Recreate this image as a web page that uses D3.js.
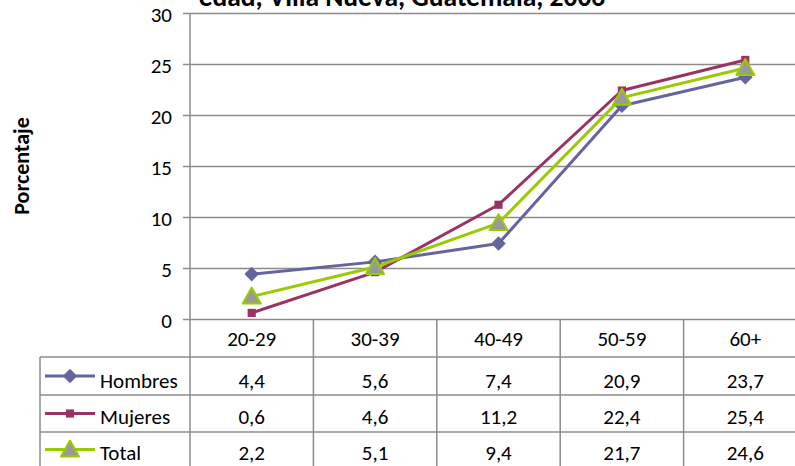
<!DOCTYPE html>
<html>
<head>
<meta charset="utf-8">
<script src="https://cdn.jsdelivr.net/npm/d3@7"></script>
<style>
  html, body { margin: 0; padding: 0; background: #fff; }
  svg { display: block; font-family: "Carlito", "Lato", "Open Sans", sans-serif; }
</style>
</head>
<body>
<svg id="chart" width="795" height="466"></svg>
<script>
// Age groups and percentages by sex
const categories = ["20-29", "30-39", "40-49", "50-59", "60+"];
const hombres = [4.4, 5.6, 7.4, 20.9, 23.7];
const mujeres = [0.6, 4.6, 11.2, 22.4, 25.4];
const total = [2.2, 5.1, 9.4, 21.7, 24.6];
const yTicks = [0, 5, 10, 15, 20, 25, 30];
const seriesNames = ["Hombres", "Mujeres", "Total"];

const series = [
  { name: seriesNames[0], values: hombres, color: "#64649f", marker: "diamond", fill: "#64649f" },
  { name: seriesNames[1], values: mujeres, color: "#993366", marker: "square", fill: "#993366" },
  { name: seriesNames[2], values: total, color: "#99cc00", marker: "triangle", fill: "#999999" }
];

const svg = d3.select("#chart");
const gridColor = "#8c8c8c";
const fontSize = 21;

const plot = { left: 190, right: 807, top: 13, bottom: 319 };
const tableRows = [357, 395, 432, 470];
const rowBaselines = [388, 424, 460];
const tableLeft = 40;

const x = d3.scaleBand().domain(categories).range([plot.left, plot.right]);
const y = d3.scaleLinear().domain([0, 30]).range([plot.bottom, plot.top]);

// Title (second line of the heading, clipped by the top edge)
svg.append("text")
  .attr("x", 402).attr("y", 6)
  .attr("text-anchor", "middle")
  .attr("font-size", 27.5).attr("font-weight", "bold")
  .text("edad, Villa Nueva, Guatemala, 2006");

// Y axis title
svg.append("text")
  .attr("transform", "translate(29,166) rotate(-90)")
  .attr("text-anchor", "middle")
  .attr("font-size", 22).attr("font-weight", "bold")
  .text("Porcentaje");

// Horizontal gridlines
svg.append("g")
  .attr("transform", `translate(${plot.left},0)`)
  .call(d3.axisRight(y).tickValues(yTicks).tickSize(plot.right - plot.left).tickFormat(""))
  .call(g => g.select(".domain").remove())
  .call(g => g.selectAll("line").attr("stroke", gridColor).attr("stroke-width", 1.5));

// Y axis with tick labels
svg.append("g")
  .attr("transform", `translate(${plot.left},0)`)
  .call(d3.axisLeft(y).tickValues(yTicks).tickSize(7).tickSizeOuter(0).tickPadding(11))
  .call(g => g.select(".domain").remove())
  .call(g => g.selectAll("line").attr("stroke", gridColor).attr("stroke-width", 1.5))
  .call(g => g.selectAll("text").attr("font-size", fontSize).attr("fill", "#000")
    .attr("font-family", "Carlito, Lato, sans-serif").attr("dy", "0.42em"));

// Vertical axis line down through the table
svg.append("line")
  .attr("x1", plot.left).attr("x2", plot.left)
  .attr("y1", plot.top).attr("y2", 470)
  .attr("stroke", gridColor).attr("stroke-width", 1.5);

// Category dividers below the plot
categories.forEach(c => {
  const xr = x(c) + x.bandwidth();
  svg.append("line")
    .attr("x1", xr).attr("x2", xr)
    .attr("y1", plot.bottom).attr("y2", 470)
    .attr("stroke", gridColor).attr("stroke-width", 1.5);
});

// Table horizontal rules and left border
tableRows.slice(0, 3).forEach(ry => {
  svg.append("line")
    .attr("x1", tableLeft).attr("x2", plot.right)
    .attr("y1", ry).attr("y2", ry)
    .attr("stroke", gridColor).attr("stroke-width", 1.5);
});
svg.append("line")
  .attr("x1", tableLeft).attr("x2", tableLeft)
  .attr("y1", tableRows[0]).attr("y2", 470)
  .attr("stroke", gridColor).attr("stroke-width", 1.5);

// Category labels
svg.append("g").selectAll("text")
  .data(categories).join("text")
  .attr("x", d => x(d) + x.bandwidth() / 2)
  .attr("y", 346)
  .attr("text-anchor", "middle")
  .attr("font-size", fontSize)
  .text(d => d);

// Marker shapes
function markerPath(type) {
  if (type === "diamond") return d3.symbol(d3.symbolDiamond2, 135)();
  if (type === "square") return d3.symbol(d3.symbolSquare2, 85)();
  return "M0,-9L9,7L-9,7Z";
}

const line = d3.line()
  .x((d, i) => x(categories[i]) + x.bandwidth() / 2)
  .y(d => y(d));

// Series lines and markers
series.forEach(s => {
  svg.append("path")
    .datum(s.values)
    .attr("fill", "none")
    .attr("stroke", s.color)
    .attr("stroke-width", 3)
    .attr("stroke-linejoin", "round")
    .attr("d", line);
});
series.forEach(s => {
  svg.append("g").selectAll("path")
    .data(s.values).join("path")
    .attr("transform", (d, i) => `translate(${x(categories[i]) + x.bandwidth() / 2},${y(d)})`)
    .attr("d", markerPath(s.marker))
    .attr("fill", s.fill)
    .attr("stroke", s.marker === "triangle" ? s.color : "none")
    .attr("stroke-width", 2)
    .attr("stroke-linejoin", "round");
});

// Data table rows with legend keys
series.forEach((s, r) => {
  const cy = (tableRows[r] + tableRows[r + 1]) / 2 - (r === 2 ? 1.5 : 0);
  const g = svg.append("g");
  g.append("line")
    .attr("x1", 45).attr("x2", 95)
    .attr("y1", cy).attr("y2", cy)
    .attr("stroke", s.color).attr("stroke-width", 3);
  g.append("path")
    .attr("transform", `translate(70,${cy})`)
    .attr("d", markerPath(s.marker))
    .attr("fill", s.fill)
    .attr("stroke", s.marker === "triangle" ? s.color : "none")
    .attr("stroke-width", 2)
    .attr("stroke-linejoin", "round");
  g.append("text")
    .attr("x", 100).attr("y", rowBaselines[r])
    .attr("font-size", fontSize)
    .text(s.name);
  g.selectAll("text.val")
    .data(s.values).join("text")
    .attr("class", "val")
    .attr("x", (d, i) => x(categories[i]) + x.bandwidth() / 2)
    .attr("y", rowBaselines[r])
    .attr("text-anchor", "middle")
    .attr("font-size", fontSize)
    .text(d => d3.format(".1f")(d).replace(".", ","));
});
</script>
</body>
</html>
